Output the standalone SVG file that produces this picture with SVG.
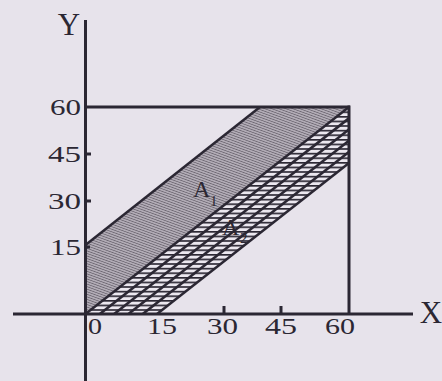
<svg xmlns="http://www.w3.org/2000/svg" width="442" height="381" viewBox="0 0 442 381">
<style>
.ax{stroke:#2b2733;stroke-width:3;fill:none;stroke-linecap:butt}
.bd{stroke:#2b2733;stroke-width:2.5;fill:none}
.lb{font-family:"Liberation Serif","Times New Roman",serif;fill:#2b2733}
.num{font-size:24px}
.sub{font-size:15px}
</style>
<defs>
<pattern id="hatchA1" patternUnits="userSpaceOnUse" width="2.4" height="2.4" patternTransform="rotate(-70)">
<rect width="2.4" height="2.4" fill="#b2acb6"/>
<line x1="0" y1="0" x2="0" y2="2.4" stroke="#4f4955" stroke-width="1.1"/>
</pattern>
<pattern id="hatchA2" patternUnits="userSpaceOnUse" width="10" height="4.6" y="1">
<rect width="10" height="4.6" fill="#ebe7ef"/>
<line x1="0" y1="0.8" x2="10" y2="0.8" stroke="#2b2733" stroke-width="1.7"/>
</pattern>
<clipPath id="bandClip">
<polygon points="85.5,314 349,107 349,163 157,314"/>
</clipPath>
</defs>
<rect width="442" height="381" fill="#e7e3eb"/>
<g id="regionA1">
<polygon points="85.5,245 260,107 349,107 85.5,314" fill="url(#hatchA1)"/>
</g>
<g id="regionA2">
<polygon points="85.5,314 349,107 349,163 157,314" fill="url(#hatchA2)"/>
<g clip-path="url(#bandClip)" stroke="#2b2733" stroke-width="2.6">
<line x1="99.8" y1="314" x2="363.3" y2="107"/>
<line x1="114.1" y1="314" x2="377.6" y2="107"/>
<line x1="128.4" y1="314" x2="391.9" y2="107"/>
<line x1="142.7" y1="314" x2="406.2" y2="107"/>
</g>
</g>
<g id="connectors">
<line class="bd" x1="85.5" y1="245" x2="260" y2="107"/>
<line class="bd" x1="85.5" y1="314" x2="349" y2="107"/>
<line class="bd" x1="157" y1="314" x2="349" y2="163"/>
<line class="ax" x1="85.5" y1="107" x2="350" y2="107"/>
<line class="ax" x1="349" y1="105.5" x2="349" y2="314"/>
</g>
<g id="axes">
<line class="ax" x1="85.5" y1="20" x2="85.5" y2="381"/>
<line class="ax" x1="13" y1="314" x2="413" y2="314"/>
<line class="ax" x1="85.5" y1="154" x2="91" y2="154"/>
<line class="ax" x1="85.5" y1="201" x2="91" y2="201"/>
<line class="ax" x1="85.5" y1="247" x2="90" y2="247"/>
<line class="ax" x1="224" y1="306" x2="224" y2="314"/>
<line class="ax" x1="281" y1="306" x2="281" y2="314"/>
</g>
<g id="labels">
<text class="lb" x="69" y="35" font-size="31" text-anchor="middle">Y</text>
<text class="lb" x="431" y="323" font-size="31" text-anchor="middle">X</text>
<text class="lb num" x="50" y="115" textLength="31" lengthAdjust="spacingAndGlyphs">60</text>
<text class="lb num" x="48" y="162" textLength="33" lengthAdjust="spacingAndGlyphs">45</text>
<text class="lb num" x="48" y="209" textLength="33" lengthAdjust="spacingAndGlyphs">30</text>
<text class="lb num" x="50" y="255" textLength="31" lengthAdjust="spacingAndGlyphs">15</text>
<text class="lb num" x="88" y="334" textLength="14" lengthAdjust="spacingAndGlyphs">0</text>
<text class="lb num" x="147" y="334" textLength="30" lengthAdjust="spacingAndGlyphs">15</text>
<text class="lb num" x="207" y="334" textLength="31" lengthAdjust="spacingAndGlyphs">30</text>
<text class="lb num" x="265" y="334" textLength="32" lengthAdjust="spacingAndGlyphs">45</text>
<text class="lb num" x="325" y="334" textLength="30" lengthAdjust="spacingAndGlyphs">60</text>
<text class="lb" x="193" y="197" font-size="24">A</text>
<text class="lb sub" x="210" y="206">1</text>
<text class="lb" x="222" y="235" font-size="24">A</text>
<text class="lb sub" x="240" y="243">2</text>
</g>
</svg>
